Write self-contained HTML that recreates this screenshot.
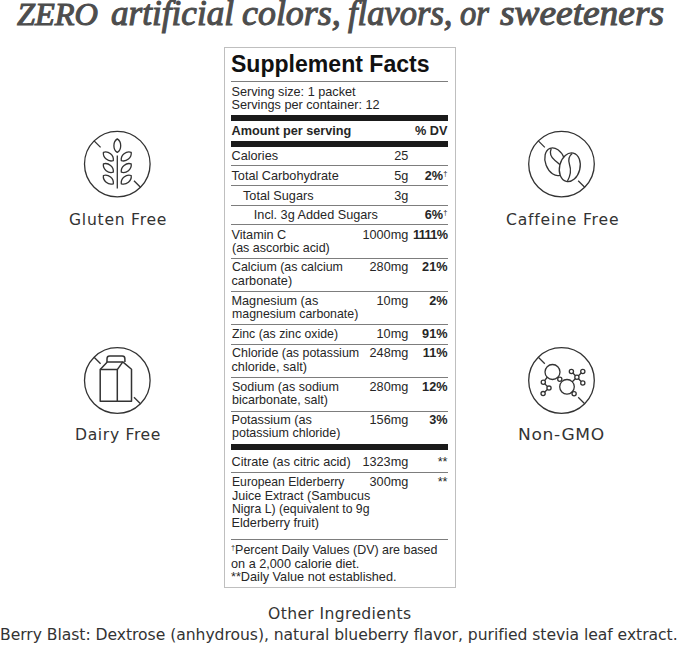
<!DOCTYPE html>
<html><head><meta charset="utf-8"><style>
html,body{margin:0;padding:0;background:#fff;width:679px;height:645px;overflow:hidden}
body{position:relative}
.h1{position:absolute;font-size:36px;line-height:1;transform-origin:0 0;white-space:nowrap;font-family:"Liberation Serif",serif;font-style:italic;font-weight:normal;-webkit-text-stroke:1.1px #4d4d4d;color:#4d4d4d}
.box{position:absolute;left:224px;top:47px;width:230px;height:539px;border:1px solid #bfbfbf}
.t{position:absolute;white-space:nowrap;font-family:"Liberation Sans",Arial,sans-serif;font-size:12.7px;line-height:13.5px;color:#262626}
.sf{font-weight:bold;font-size:24.2px;line-height:26px;color:#111;transform:scaleX(0.953);transform-origin:0 0}
.r{position:absolute;left:231px;width:217px;background:#7d7d7d}
.rb{position:absolute;left:231px;width:217px;background:#1a1a1a}
sup{font-size:7.5px;line-height:1;vertical-align:top;position:relative;top:-1.3px;font-weight:normal;margin-left:0.3px;top:-0.5px}
sup.fd{font-size:7.5px;top:-0.3px;margin-left:0}
.lab{position:absolute;white-space:nowrap;font-family:"DejaVu Sans",sans-serif;font-size:15.6px;color:#333}
</style></head><body>
<div class="h1" style="left:16.5px;top:-2px;font-size:32px;transform:scaleX(1.012)">ZERO </div>
<div class="h1" style="left:111px;top:-5px;transform:scaleX(0.976)">artificial </div>
<div class="h1" style="left:242px;top:-5px;transform:scaleX(0.997)">colors, </div>
<div class="h1" style="left:347.5px;top:-5px;transform:scaleX(0.958)">flavors, </div>
<div class="h1" style="left:460.1px;top:-5px;transform:scaleX(0.906)">or </div>
<div class="h1" style="left:500px;top:-5px;transform:scaleX(1.038)">sweeteners</div>
<div class="box"></div>
<div class="t sf" style="left:231px;top:51px">Supplement Facts</div>
<div class="r" style="top:81px;height:1px"></div>
<div class="t" style="top:85.65px;left:231.50px;">Serving size: 1 packet</div>
<div class="t" style="top:99.35px;left:231.50px;">Servings per container: 12</div>
<div class="rb" style="top:115px;height:6px"></div>
<div class="t" style="top:124.95px;left:231.50px;font-weight:bold;">Amount per serving</div>
<div class="t" style="top:124.95px;right:231.50px;text-align:right;font-weight:bold;">% DV</div>
<div class="rb" style="top:141px;height:6px"></div>
<div class="t" style="top:150.35px;left:231.50px;">Calories</div>
<div class="t" style="top:150.35px;right:270.70px;text-align:right;">25</div>
<div class="r" style="top:165px;height:1px"></div>
<div class="t" style="top:170.05px;left:231.50px;">Total Carbohydrate</div>
<div class="t" style="top:170.05px;right:270.70px;text-align:right;">5g</div>
<div class="t" style="top:170.05px;right:231.50px;text-align:right;font-weight:bold;">2%<sup>&dagger;</sup></div>
<div class="r" style="top:185px;height:1px"></div>
<div class="t" style="top:189.65px;left:243.00px;">Total Sugars</div>
<div class="t" style="top:189.65px;right:270.70px;text-align:right;">3g</div>
<div class="r" style="top:204.6px;height:1px"></div>
<div class="t" style="top:209.35px;left:253.80px;">Incl. 3g Added Sugars</div>
<div class="t" style="top:209.35px;right:231.50px;text-align:right;font-weight:bold;">6%<sup>&dagger;</sup></div>
<div class="r" style="top:224.3px;height:1px"></div>
<div class="t" style="top:228.65px;left:231.50px;">Vitamin C</div>
<div class="t" style="top:242.15px;left:231.50px;transform:scaleX(0.983);transform-origin:0 0;">(as ascorbic acid)</div>
<div class="t" style="top:228.65px;right:270.70px;text-align:right;">1000mg</div>
<div class="t" style="top:228.65px;right:231.50px;text-align:right;font-weight:bold;letter-spacing:-0.6px;">1111%</div>
<div class="r" style="top:257.7px;height:1px"></div>
<div class="t" style="top:261.45px;left:231.50px;transform:scaleX(0.977);transform-origin:0 0;">Calcium (as calcium</div>
<div class="t" style="top:275.05px;left:231.50px;">carbonate)</div>
<div class="t" style="top:261.45px;right:270.70px;text-align:right;">280mg</div>
<div class="t" style="top:261.45px;right:231.50px;text-align:right;font-weight:bold;">21%</div>
<div class="r" style="top:291px;height:1px"></div>
<div class="t" style="top:294.65px;left:231.50px;">Magnesium (as</div>
<div class="t" style="top:308.25px;left:231.50px;transform:scaleX(0.973);transform-origin:0 0;">magnesium carbonate)</div>
<div class="t" style="top:294.65px;right:270.70px;text-align:right;">10mg</div>
<div class="t" style="top:294.65px;right:231.50px;text-align:right;font-weight:bold;">2%</div>
<div class="r" style="top:324.2px;height:1px"></div>
<div class="t" style="top:327.75px;left:231.50px;transform:scaleX(0.97);transform-origin:0 0;">Zinc (as zinc oxide)</div>
<div class="t" style="top:327.75px;right:270.70px;text-align:right;">10mg</div>
<div class="t" style="top:327.75px;right:231.50px;text-align:right;font-weight:bold;">91%</div>
<div class="r" style="top:343.6px;height:1px"></div>
<div class="t" style="top:347.35px;left:231.50px;transform:scaleX(0.98);transform-origin:0 0;">Chloride (as potassium</div>
<div class="t" style="top:360.95px;left:231.50px;">chloride, salt)</div>
<div class="t" style="top:347.35px;right:270.70px;text-align:right;">248mg</div>
<div class="t" style="top:347.35px;right:231.50px;text-align:right;font-weight:bold;">11%</div>
<div class="r" style="top:377.2px;height:1px"></div>
<div class="t" style="top:380.85px;left:231.50px;transform:scaleX(0.985);transform-origin:0 0;">Sodium (as sodium</div>
<div class="t" style="top:394.35px;left:231.50px;transform:scaleX(0.985);transform-origin:0 0;">bicarbonate, salt)</div>
<div class="t" style="top:380.85px;right:270.70px;text-align:right;">280mg</div>
<div class="t" style="top:380.85px;right:231.50px;text-align:right;font-weight:bold;">12%</div>
<div class="r" style="top:410.6px;height:1px"></div>
<div class="t" style="top:413.95px;left:231.50px;">Potassium (as</div>
<div class="t" style="top:427.45px;left:231.50px;transform:scaleX(0.985);transform-origin:0 0;">potassium chloride)</div>
<div class="t" style="top:413.95px;right:270.70px;text-align:right;">156mg</div>
<div class="t" style="top:413.95px;right:231.50px;text-align:right;font-weight:bold;">3%</div>
<div class="rb" style="top:444.3px;height:6px"></div>
<div class="t" style="top:456.35px;left:231.50px;">Citrate (as citric acid)</div>
<div class="t" style="top:456.35px;right:270.70px;text-align:right;">1323mg</div>
<div class="t" style="top:456.35px;right:231.50px;text-align:right;">**</div>
<div class="r" style="top:472.4px;height:1px"></div>
<div class="t" style="top:475.95px;left:231.50px;transform:scaleX(0.96);transform-origin:0 0;">European Elderberry</div>
<div class="t" style="top:489.65px;left:231.50px;transform:scaleX(0.985);transform-origin:0 0;">Juice Extract (Sambucus</div>
<div class="t" style="top:503.35px;left:231.50px;transform:scaleX(0.965);transform-origin:0 0;">Nigra L) (equivalent to 9g</div>
<div class="t" style="top:517.05px;left:231.50px;">Elderberry fruit)</div>
<div class="t" style="top:475.95px;right:270.70px;text-align:right;">300mg</div>
<div class="t" style="top:475.95px;right:231.50px;text-align:right;">**</div>
<div class="r" style="top:539.2px;height:1px"></div>
<div class="t" style="top:544.25px;left:231.00px;transform:scaleX(0.98);transform-origin:0 0;"><sup class="fd">&dagger;</sup>Percent Daily Values (DV) are based</div>
<div class="t" style="top:557.65px;left:231.00px;">on a 2,000 calorie diet.</div>
<div class="t" style="top:571.05px;left:231.00px;">**Daily Value not established.</div>

<svg style="position:absolute;left:0;top:0" width="679" height="645" viewBox="0 0 679 645" fill="none" stroke="#333" stroke-width="1.3" stroke-linecap="butt" stroke-linejoin="round"><circle cx="117.3" cy="164.1" r="32.8"/><line x1="94.11" y1="140.91" x2="100.61" y2="147.41"/><line x1="140.49" y1="187.29" x2="133.99" y2="180.79"/><line x1="117.3" y1="155.6" x2="117.3" y2="188.6"/><path d="M117.30,138.90 C112.77,141.87 112.77,149.43 117.30,152.40 C121.83,149.43 121.83,141.87 117.30,138.90Z"/><path d="M103.40,152.30 C102.67,157.60 108.21,162.25 113.30,160.60 C114.03,155.30 108.49,150.65 103.40,152.30Z"/><path d="M131.20,152.30 C131.93,157.60 126.39,162.25 121.30,160.60 C120.57,155.30 126.11,150.65 131.20,152.30Z"/><path d="M103.40,163.90 C102.67,169.20 108.21,173.85 113.30,172.20 C114.03,166.90 108.49,162.25 103.40,163.90Z"/><path d="M131.20,163.90 C131.93,169.20 126.39,173.85 121.30,172.20 C120.57,166.90 126.11,162.25 131.20,163.90Z"/><path d="M103.40,175.50 C102.67,180.80 108.21,185.45 113.30,183.80 C114.03,178.50 108.49,173.85 103.40,175.50Z"/><path d="M131.20,175.50 C131.93,180.80 126.39,185.45 121.30,183.80 C120.57,178.50 126.11,173.85 131.20,175.50Z"/><circle cx="561.5" cy="164.1" r="32.8"/><line x1="538.31" y1="140.91" x2="544.81" y2="147.41"/><line x1="584.69" y1="187.29" x2="578.19" y2="180.79"/><g transform="translate(555.2,161.8) rotate(-21)"><ellipse rx="9.7" ry="14.4"/></g><path d="M551.2,148.6 C549.5,153 551,157.5 555,160.5 C558,162.8 560,164.5 561,166"/><g transform="translate(569.8,167.3) rotate(14)"><ellipse rx="10.2" ry="14.6" fill="#fff"/></g><path d="M572.2,153.4 C568.8,156 568.2,160.5 569.5,164.5 C571,169 570.8,175 567.5,181"/><circle cx="117.3" cy="380.5" r="32.8"/><line x1="94.11" y1="357.31" x2="100.61" y2="363.81"/><line x1="140.49" y1="403.69" x2="133.99" y2="397.19"/><g stroke-width="1.5"><path d="M100.2,401.2 L100.2,369.6 L117.3,369.6 L117.3,401.2 Z"/><path d="M117.3,401.2 L131.5,401.2 L131.5,369.2 L122.8,361.9 L107.3,361.9 L100.2,369.6"/><path d="M117.3,369.6 L122.8,361.9"/><path d="M107.0,361.9 L107.0,358.8 Q107.0,356.1 109.7,356.1 L122.2,356.1 Q124.9,356.1 124.9,358.8 L124.9,361.9"/></g><circle cx="561.5" cy="380.5" r="32.8"/><line x1="538.31" y1="357.31" x2="544.81" y2="363.81"/><line x1="584.69" y1="403.69" x2="578.19" y2="397.19"/><circle cx="552.5" cy="372.0" r="7.5"/><circle cx="567.0" cy="386.8" r="7.3"/><line x1="547.4" y1="377.0" x2="543.3" y2="382.3"/><line x1="543.3" y1="382.3" x2="549.0" y2="388.1"/><line x1="549.0" y1="388.1" x2="543.1" y2="393.6"/><line x1="576.9" y1="377.3" x2="571.4" y2="371.5"/><line x1="576.9" y1="377.3" x2="582.8" y2="371.5"/><line x1="576.9" y1="377.3" x2="582.8" y2="383.0"/><line x1="576.9" y1="377.3" x2="572.0" y2="382.0"/><line x1="571.0" y1="392.0" x2="574.1" y2="393.8"/><circle cx="559.8" cy="379.3" r="2.1" fill="#fff"/><circle cx="543.3" cy="382.3" r="2.1" fill="#fff"/><circle cx="549.0" cy="388.1" r="2.1" fill="#fff"/><circle cx="543.1" cy="393.6" r="2.1" fill="#fff"/><circle cx="576.9" cy="377.3" r="2.1" fill="#fff"/><circle cx="571.4" cy="371.5" r="2.1" fill="#fff"/><circle cx="582.8" cy="371.5" r="2.1" fill="#fff"/><circle cx="582.8" cy="383.0" r="2.1" fill="#fff"/><circle cx="574.1" cy="393.8" r="2.1" fill="#fff"/></svg>
<div class="lab" style="left:69px;top:211px;letter-spacing:0.75px">Gluten Free</div>
<div class="lab" style="left:506px;top:211px;letter-spacing:0.8px">Caffeine Free</div>
<div class="lab" style="left:75px;top:426px;letter-spacing:0.65px">Dairy Free</div>
<div class="lab" style="left:518.4px;top:426px;letter-spacing:0.6px;transform:scaleX(1.095);transform-origin:0 0">Non-GMO</div>
<div class="lab" style="left:268px;top:605px;letter-spacing:0.37px">Other Ingredients</div>
<div class="lab" style="left:0px;top:625.5px;letter-spacing:-0.04px">Berry Blast: Dextrose (anhydrous), natural blueberry flavor, purified stevia leaf extract.</div>
</body></html>
